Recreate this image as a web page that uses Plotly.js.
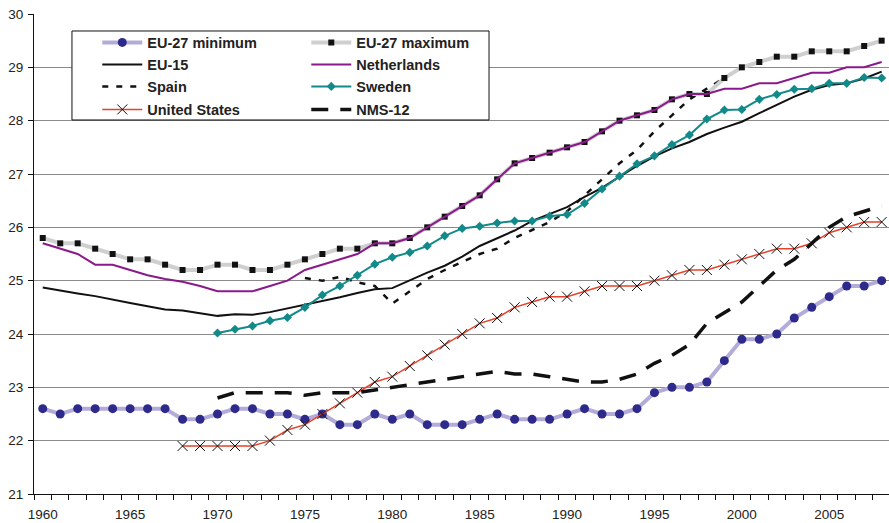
<!DOCTYPE html>
<html>
<head>
<meta charset="utf-8">
<script src="https://cdn.plot.ly/plotly-3.0.1.min.js"></script>
<style>html,body{margin:0;padding:0;background:#fff;}#chart{width:889px;height:523px;}</style>
</head>
<body>
<div id="chart"></div>
<script>
// ---- data (years 1960..2008) ----
const years = [];
for (let y = 1960; y <= 2008; y++) years.push(y);
const xTickYears = [1960, 1965, 1970, 1975, 1980, 1985, 1990, 1995, 2000, 2005];

const eu27Min = [22.6,22.5,22.6,22.6,22.6,22.6,22.6,22.6,22.4,22.4,
  22.5,22.6,22.6,22.5,22.5,22.4,22.5,22.3,22.3,22.5,
  22.4,22.5,22.3,22.3,22.3,22.4,22.5,22.4,22.4,22.4,
  22.5,22.6,22.5,22.5,22.6,22.9,23.0,23.0,23.1,23.5,
  23.9,23.9,24.0,24.3,24.5,24.7,24.9,24.9,25.0];

const eu27Max = [25.8,25.7,25.7,25.6,25.5,25.4,25.4,25.3,25.2,25.2,
  25.3,25.3,25.2,25.2,25.3,25.4,25.5,25.6,25.6,25.7,
  25.7,25.8,26.0,26.2,26.4,26.6,26.9,27.2,27.3,27.4,
  27.5,27.6,27.8,28.0,28.1,28.2,28.4,28.5,28.5,28.8,
  29.0,29.1,29.2,29.2,29.3,29.3,29.3,29.4,29.5];

const eu15 = [24.87,24.81,24.76,24.71,24.64,24.58,24.52,24.46,24.44,24.39,
  24.34,24.37,24.36,24.41,24.48,24.54,24.62,24.69,24.77,24.84,
  24.86,25.01,25.15,25.28,25.45,25.65,25.79,25.94,26.12,26.25,
  26.38,26.57,26.74,26.95,27.15,27.33,27.48,27.60,27.75,27.87,
  27.98,28.14,28.29,28.45,28.58,28.67,28.70,28.79,28.92];

const netherlands = [25.7,25.6,25.5,25.3,25.3,25.2,25.1,25.03,24.98,24.9,
  24.8,24.8,24.8,24.9,25.0,25.2,25.3,25.4,25.5,25.7,
  25.7,25.8,26.0,26.2,26.4,26.6,26.9,27.2,27.3,27.4,
  27.5,27.6,27.8,28.0,28.1,28.2,28.4,28.5,28.5,28.6,
  28.6,28.7,28.7,28.8,28.9,28.9,29.0,29.0,29.1];

const spain = [null,null,null,null,null,null,null,null,null,null,
  null,null,null,null,null,25.05,25.0,25.07,24.97,24.9,
  24.57,24.8,25.03,25.2,25.35,25.5,25.6,25.8,25.95,26.1,
  26.3,26.6,26.9,27.2,27.45,27.8,28.1,28.4,28.6,28.8,
  29.0,29.1,29.2,29.2,29.3,29.3,29.3,29.4,29.5];

const sweden = [null,null,null,null,null,null,null,null,null,null,
  24.02,24.09,24.15,24.25,24.31,24.5,24.73,24.9,25.1,25.31,
  25.44,25.53,25.65,25.84,25.98,26.02,26.08,26.12,26.12,26.21,
  26.24,26.45,26.72,26.96,27.19,27.34,27.55,27.73,28.03,28.2,
  28.21,28.4,28.49,28.59,28.6,28.7,28.7,28.81,28.8];

const unitedStates = [null,null,null,null,null,null,null,null,21.9,21.9,
  21.9,21.9,21.9,22.0,22.2,22.3,22.5,22.7,22.9,23.1,
  23.2,23.4,23.6,23.8,24.0,24.2,24.3,24.5,24.6,24.7,
  24.7,24.8,24.9,24.9,24.9,25.0,25.1,25.2,25.2,25.3,
  25.4,25.5,25.6,25.6,25.7,25.9,26.0,26.1,26.1];

const nms12 = [null,null,null,null,null,null,null,null,null,null,
  22.8,22.9,22.9,22.9,22.9,22.85,22.9,22.9,22.9,22.95,
  23.0,23.05,23.1,23.15,23.2,23.25,23.3,23.25,23.25,23.2,
  23.15,23.1,23.1,23.15,23.25,23.45,23.6,23.8,24.2,24.4,
  24.6,24.9,25.2,25.4,25.7,26.0,26.2,26.3,26.4];

// ---- traces ----
const FONT = 'Liberation Sans, Arial, Helvetica, sans-serif';
const traces = [
  {name: 'Spain', x: years, y: spain, mode: 'lines', legend: 'legend3',
   line: {color: '#111', width: 2.5, dash: '6px,8px'}},
  {name: 'EU-27 minimum', x: years, y: eu27Min, mode: 'lines+markers', legend: 'legend',
   line: {color: '#b3acd9', width: 4}, marker: {symbol: 'circle', size: 9, color: '#2e2a8c'}},
  {name: 'EU-27 maximum', x: years, y: eu27Max, mode: 'lines+markers', legend: 'legend',
   line: {color: '#cfcfcf', width: 4}, marker: {symbol: 'square', size: 6, color: '#111'}},
  {name: 'EU-15', x: years, y: eu15, mode: 'lines', legend: 'legend2',
   line: {color: '#111', width: 2}},
  {name: 'Netherlands', x: years, y: netherlands, mode: 'lines', legend: 'legend2',
   line: {color: '#8a1a8c', width: 2}},
  {name: 'Sweden', x: years, y: sweden, mode: 'lines+markers', legend: 'legend3',
   line: {color: '#138a8a', width: 2}, marker: {symbol: 'diamond', size: 7, color: '#138a8a'}},
  {name: 'United States', x: years, y: unitedStates, mode: 'lines+markers', legend: 'legend4',
   line: {color: '#e8402a', width: 1.5},
   marker: {symbol: 'x-thin', size: 10, color: '#111', line: {color: '#111', width: 1}}},
  {name: 'NMS-12', x: years, y: nms12, mode: 'lines', legend: 'legend4',
   line: {color: '#111', width: 3.5, dash: '17px,12px'}}
];

function legendRow(yPaper) {
  return {
    orientation: 'h', x: 0.074, xanchor: 'left', y: yPaper, yanchor: 'middle',
    bgcolor: 'rgba(0,0,0,0)', borderwidth: 0, itemwidth: 40,
    entrywidth: 154, entrywidthmode: 'pixels',
    font: {family: FONT, size: 14.5, color: '#222', weight: 700}
  };
}

const layout = {
  width: 889, height: 523,
  margin: {l: 34, r: 0, t: 14, b: 29, pad: 0},
  paper_bgcolor: '#fff', plot_bgcolor: '#fff',
  showlegend: true,
  font: {family: FONT, size: 13.5, color: '#222'},
  xaxis: {
    range: [1959.5, 2008.42], tickvals: xTickYears, ticktext: xTickYears.map(String),
    ticks: '', showline: true, linecolor: '#111', linewidth: 1,
    showgrid: false, zeroline: false, ticklabelstandoff: 8,
    tickfont: {family: FONT, size: 13.5, color: '#222'},
    minor: {ticks: 'outside', tick0: 1959.5, dtick: 1, ticklen: 5, tickcolor: '#111', tickwidth: 1, showgrid: false}
  },
  yaxis: {
    range: [21, 30], dtick: 1, tick0: 21, ticks: 'outside', ticklen: 5, tickcolor: '#111',
    showline: true, linecolor: '#111', linewidth: 1,
    gridcolor: '#8a8a8a', gridwidth: 1, zeroline: false, ticklabelstandoff: 2,
    tickfont: {family: FONT, size: 13.5, color: '#222'}
  },
  legend: legendRow(0.9406),
  legend2: legendRow(0.8948),
  legend3: legendRow(0.8490),
  legend4: legendRow(0.8010),
  shapes: [{
    type: 'rect', xref: 'paper', yref: 'paper', layer: 'above',
    x0: 0.0444, x1: 0.5322, y0: 0.7792, y1: 0.9646,
    line: {color: '#111', width: 1}, fillcolor: '#fff'
  }]
};

Plotly.newPlot('chart', traces, layout, {displayModeBar: false, staticPlot: true});
</script>
</body>
</html>
